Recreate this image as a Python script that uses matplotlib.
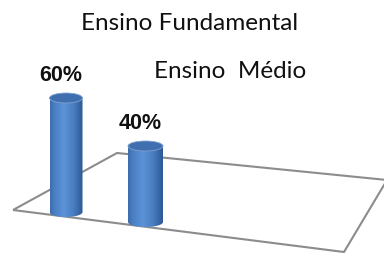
import numpy as np
import matplotlib
matplotlib.use("Agg")
import matplotlib.pyplot as plt
from matplotlib.patches import Ellipse, Polygon, PathPatch
from matplotlib.path import Path

categories = ["Ensino Fundamental", "Ensino  Médio"]
values = [60, 40]
labels = ["60%", "40%"]

# layout (pixel-ish units: x in px, y in % with 1.9 px per %)
W, H = 384, 255
ppu = 1.9
bar_x = [66, 145.5]          # centres
bar_w = [33, 35]
base_px = [213, 223]          # from top
cap_h = 10 / ppu

fig = plt.figure(figsize=(W / 100, H / 100), dpi=100)
ax = fig.add_axes([0, 0, 1, 1])
ax.set_xlim(0, W)
ax.set_ylim(0, H / ppu)
ax.axis("off")

def py(p):
    return (H - p) / ppu

# floor
floor = [(13, 211), (117, 154), (387, 181), (344, 253)]
ax.add_patch(Polygon([(x, py(y)) for x, y in floor], closed=True, fill=False,
                     edgecolor="#8c8c8c", lw=1.5, zorder=1))

grad = np.linspace(0, 1, 64)
shade = 1 - np.abs(grad - 0.42) * 1.6
cmap = matplotlib.colors.LinearSegmentedColormap.from_list(
    "cyl", ["#2d5894", "#4a7ec2", "#5b92d8"])

bases = [py(b) for b in base_px]
bars = ax.bar(bar_x, values, width=bar_w, bottom=bases, color="none", zorder=2)
for rect, v in zip(bars, values):
    x0, y0 = rect.get_x(), rect.get_y()
    w, h = rect.get_width(), rect.get_height()
    # body path: rect + bottom half ellipse
    t = np.linspace(np.pi, 2 * np.pi, 40)
    xs = x0 + w / 2 + w / 2 * np.cos(t)
    ys = y0 + cap_h / 2 * np.sin(t)
    verts = [(x0, y0 + h)] + list(zip(xs, ys)) + [(x0 + w, y0 + h), (x0, y0 + h)]
    path = Path(verts)
    body = PathPatch(path, facecolor="none", edgecolor="none", zorder=2)
    ax.add_patch(body)
    im = ax.imshow(shade[None, :], cmap=cmap, aspect="auto",
                   extent=[x0, x0 + w, y0 - cap_h, y0 + h], zorder=2)
    im.set_clip_path(body)
    ax.add_patch(Ellipse((x0 + w / 2, y0 + h), w, cap_h, facecolor="#3f6fae",
                         edgecolor="#7fa3d0", lw=0.6, zorder=3))

for xc, v, b, lab in zip(bar_x, values, bases, labels):
    ax.text(xc - 5, b + v + 12.5, lab, ha="center", va="center",
            fontsize=15.5, fontweight="bold", family="Liberation Sans", color="#111111")

ax.text(190, py(24), categories[0], ha="center", va="center", fontsize=17.5,
        family="Lato", color="#111111")
ax.text(230, py(72), categories[1], ha="center", va="center", fontsize=17.5,
        family="Lato", color="#111111")

fig.savefig("out.png", dpi=100)
